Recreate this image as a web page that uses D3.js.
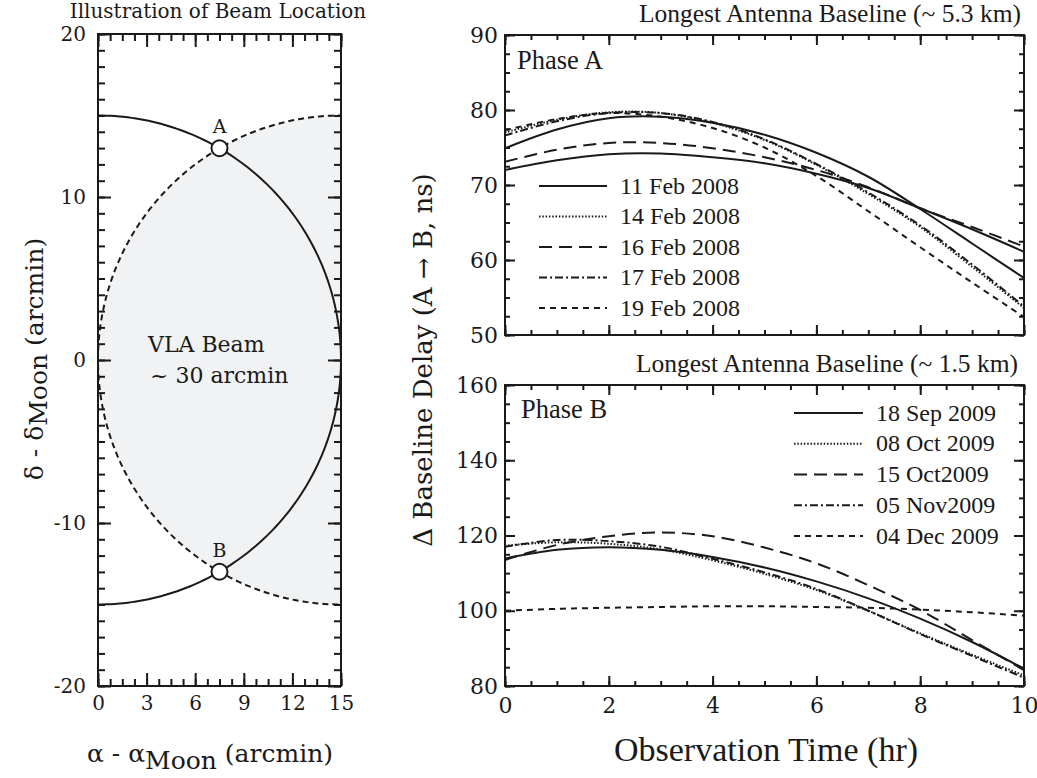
<!DOCTYPE html>
<html>
<head>
<meta charset="utf-8">
<script src="https://cdn.jsdelivr.net/npm/d3@7"></script>
<style>
  body { margin: 0; background: #fff; }
  svg { display: block; }
</style>
</head>
<body>
<svg id="chart" width="1037" height="778"></svg>
<script>
// ---------------- DATA ----------------
// Left panel: beam geometry (arcmin)
const beamRadius = 15;
const solidCircleCenter = [0, 0];     // primary beam circle (solid)
const dashedCircleCenter = [15, 0];   // shaded beam circle (dashed)
const pointLabels = ["A", "B"];
const leftXTicks = [0, 3, 6, 9, 12, 15];
const leftYTicks = [-20, -10, 0, 10, 20];

// Right panels: observation time (hr)
const hours = [0, 1, 2, 3, 4, 5, 6, 7, 8, 9, 10];
const rightXTicks = [0, 2, 4, 6, 8, 10];
const phaseAYTicks = [50, 60, 70, 80, 90];
const phaseBYTicks = [80, 100, 120, 140, 160];

// Phase A (Longest baseline ~5.3 km), delay in ns
const phaseADates = ["11 Feb 2008", "14 Feb 2008", "16 Feb 2008", "17 Feb 2008", "19 Feb 2008"];
const feb11 = [74.9, 77.4, 78.9, 79.1, 78.3, 76.7, 74.3, 71.1, 66.8, 62.2, 57.6];
const feb14 = [77.0, 78.7, 79.7, 79.6, 78.3, 76.0, 72.7, 68.8, 64.4, 59.1, 53.6];
const feb16 = [73.1, 74.7, 75.6, 75.6, 74.9, 73.7, 72.0, 69.7, 66.9, 64.4, 61.8];
const feb17 = [76.6, 78.5, 79.6, 79.6, 78.4, 76.1, 72.8, 69.0, 64.6, 59.4, 53.8];
const feb19 = [77.3, 78.8, 79.6, 79.1, 77.6, 75.0, 71.2, 66.5, 61.7, 57.0, 52.4];
const phaseAExtraSolid = [72.0, 73.3, 74.1, 74.2, 73.7, 72.9, 71.5, 69.6, 66.9, 64.1, 61.1];

// Phase B (Longest baseline ~1.5 km)
const phaseBDates = ["18 Sep 2009", "08 Oct 2009", "15 Oct2009", "05 Nov2009", "04 Dec 2009"];
const sep18 = [113.9, 116.2, 116.9, 116.2, 114.3, 111.5, 107.8, 103.3, 97.9, 91.7, 84.6];
const oct08 = [117.3, 118.2, 117.8, 116.3, 113.4, 109.8, 105.5, 100.0, 94.0, 88.3, 82.8];
const oct15 = [113.5, 117.5, 119.8, 120.8, 119.8, 116.8, 112.6, 106.8, 100.2, 92.2, 84.2];
const nov05 = [117.0, 118.8, 118.5, 117.0, 113.8, 110.2, 105.8, 100.0, 93.8, 88.0, 82.2];
const dec04 = [100.0, 100.5, 100.8, 101.0, 101.2, 101.2, 101.0, 100.8, 100.3, 99.6, 98.7];

// ---------------- STYLE ----------------
const dashStyles = ["none", "1.5,1.8", "13,7", "8,3,2,3", "6,5"];
const INK = "#1a1a1a";
const SERIF_WIDE = "'DejaVu Serif', serif";
const SERIF = "'Liberation Serif', 'Times New Roman', serif";

const svg = d3.select("#chart");
const plainFmt = d => String(d);

// ---------- generic frame with inward ticks on all four sides ----------
function drawFrame(g, x, y, opt) {
  const [x0, x1] = x.range();
  const [yb, yt] = y.range();
  const bottom = g.append("g").attr("transform", `translate(0,${yb})`)
    .call(d3.axisBottom(x).tickValues(opt.xMajor).tickFormat(plainFmt).tickSize(-opt.maj).tickSizeOuter(0).tickPadding(opt.xPad));
  const top = g.append("g").attr("transform", `translate(0,${yt})`)
    .call(d3.axisTop(x).tickValues(opt.xMajor).tickSize(-opt.maj).tickSizeOuter(0).tickFormat(""));
  const left = g.append("g").attr("transform", `translate(${x0},0)`)
    .call(d3.axisLeft(y).tickValues(opt.yMajor).tickFormat(plainFmt).tickSize(-opt.maj).tickSizeOuter(0).tickPadding(opt.yPad));
  const right = g.append("g").attr("transform", `translate(${x1},0)`)
    .call(d3.axisRight(y).tickValues(opt.yMajor).tickSize(-opt.maj).tickSizeOuter(0).tickFormat(""));
  const mb = g.append("g").attr("transform", `translate(0,${yb})`)
    .call(d3.axisBottom(x).tickValues(opt.xMinor).tickSize(-opt.min).tickSizeOuter(0).tickFormat(""));
  const mt = g.append("g").attr("transform", `translate(0,${yt})`)
    .call(d3.axisTop(x).tickValues(opt.xMinor).tickSize(-opt.min).tickSizeOuter(0).tickFormat(""));
  const ml = g.append("g").attr("transform", `translate(${x0},0)`)
    .call(d3.axisLeft(y).tickValues(opt.yMinor).tickSize(-opt.min).tickSizeOuter(0).tickFormat(""));
  const mr = g.append("g").attr("transform", `translate(${x1},0)`)
    .call(d3.axisRight(y).tickValues(opt.yMinor).tickSize(-opt.min).tickSizeOuter(0).tickFormat(""));
  [bottom, top, left, right, mb, mt, ml, mr].forEach(a => {
    a.select(".domain").remove();
    a.selectAll("line").attr("stroke", INK).attr("stroke-width", 2);
    a.selectAll("text").attr("fill", INK).attr("font-family", SERIF_WIDE).attr("font-size", opt.font);
  });
  if (!opt.showX) bottom.selectAll("text").remove();
  g.append("rect").attr("x", x0).attr("y", yt).attr("width", x1 - x0).attr("height", yb - yt)
    .attr("fill", "none").attr("stroke", INK).attr("stroke-width", 2);
}

function minorRange(domain, step) {
  return d3.range(domain[0], domain[1] + step / 2, step).map(v => +v.toFixed(4));
}

// ================= LEFT PANEL =================
const xL = d3.scaleLinear().domain([0, 15]).range([98, 341]);
const yL = d3.scaleLinear().domain([-20, 20]).range([686, 34]);
const gL = svg.append("g");

svg.append("defs").append("clipPath").attr("id", "clipL")
  .append("rect").attr("x", xL(0)).attr("y", yL(20))
  .attr("width", xL(15) - xL(0)).attr("height", yL(-20) - yL(20));

function circlePoints(c, r) {
  return d3.range(0, 361, 1).map(a => [c[0] + r * Math.cos(a * Math.PI / 180), c[1] + r * Math.sin(a * Math.PI / 180)]);
}
const lineL = d3.line().x(d => xL(d[0])).y(d => yL(d[1]));
const plotL = gL.append("g").attr("clip-path", "url(#clipL)");
plotL.append("path").attr("d", lineL(circlePoints(dashedCircleCenter, beamRadius)) + "Z")
  .attr("fill", "#f1f2f4").attr("stroke", "none");
plotL.append("path").attr("d", lineL(circlePoints(dashedCircleCenter, beamRadius)))
  .attr("fill", "none").attr("stroke", INK).attr("stroke-width", 2).attr("stroke-dasharray", "6,4");
plotL.append("path").attr("d", lineL(circlePoints(solidCircleCenter, beamRadius)))
  .attr("fill", "none").attr("stroke", INK).attr("stroke-width", 2);

drawFrame(gL, xL, yL, {
  xMajor: leftXTicks, xMinor: minorRange([0, 15], 0.75),
  yMajor: leftYTicks, yMinor: minorRange([-20, 20], 1),
  maj: 13, min: 7, xPad: 10, yPad: 12, font: 20, showX: true
});

// intersection points A and B
const ix = (solidCircleCenter[0] + dashedCircleCenter[0]) / 2;
const iy = Math.sqrt(beamRadius * beamRadius - ix * ix);
const inters = [[ix, iy], [ix, -iy]];
inters.forEach((p, i) => {
  gL.append("circle").attr("cx", xL(p[0])).attr("cy", yL(p[1])).attr("r", 8)
    .attr("fill", "#fff").attr("stroke", INK).attr("stroke-width", 2);
  gL.append("text").attr("x", xL(p[0])).attr("y", yL(p[1]) - 15)
    .attr("text-anchor", "middle").attr("font-family", SERIF_WIDE).attr("font-size", 19)
    .attr("fill", INK).text(pointLabels[i]);
});

gL.append("text").attr("x", 148).attr("y", 352).attr("font-family", SERIF_WIDE).attr("font-size", 22)
  .attr("fill", INK).text("VLA Beam");
gL.append("text").attr("x", 150).attr("y", 383).attr("font-family", SERIF_WIDE).attr("font-size", 22)
  .attr("fill", INK).text("~ 30 arcmin");

gL.append("text").attr("x", 218).attr("y", 18).attr("text-anchor", "middle")
  .attr("font-family", SERIF_WIDE).attr("font-size", 20).attr("fill", INK).text("Illustration of Beam Location");

// axis labels
const xLab = gL.append("text").attr("x", 210).attr("y", 762).attr("text-anchor", "middle")
  .attr("font-family", SERIF_WIDE).attr("font-size", 25).attr("fill", INK);
xLab.append("tspan").text("α - α");
xLab.append("tspan").attr("dy", 7).text("Moon");
xLab.append("tspan").attr("dy", -7).text(" (arcmin)");

const yLab = gL.append("text").attr("transform", "translate(43,359) rotate(-90)").attr("text-anchor", "middle")
  .attr("font-family", SERIF_WIDE).attr("font-size", 25).attr("fill", INK);
yLab.append("tspan").text("δ - δ");
yLab.append("tspan").attr("dy", 4).text("Moon");
yLab.append("tspan").attr("dy", -4).text(" (arcmin)");

// ================= RIGHT PANELS =================
const xR = d3.scaleLinear().domain([0, 10]).range([505, 1024]);
const yA = d3.scaleLinear().domain([50, 90]).range([335, 35]);
const yB = d3.scaleLinear().domain([80, 160]).range([686, 385]);

function drawSeries(g, y, seriesList, styles, clipId) {
  const line = d3.line().x((d, i) => xR(hours[i])).y(d => y(d)).curve(d3.curveCatmullRom.alpha(0.5));
  const pg = g.append("g").attr("clip-path", `url(#${clipId})`);
  seriesList.forEach((s, i) => {
    pg.append("path").attr("d", line(s)).attr("fill", "none").attr("stroke", INK)
      .attr("stroke-width", 2).attr("stroke-dasharray", styles[i]);
  });
}
function addClip(id, y) {
  svg.select("defs").append("clipPath").attr("id", id).append("rect")
    .attr("x", xR.range()[0]).attr("y", y.range()[1])
    .attr("width", xR.range()[1] - xR.range()[0]).attr("height", y.range()[0] - y.range()[1]);
}
function drawLegend(g, names, x0, x1, yStart, step) {
  names.forEach((n, i) => {
    const yy = yStart + i * step;
    g.append("line").attr("x1", x0).attr("x2", x1).attr("y1", yy).attr("y2", yy)
      .attr("stroke", INK).attr("stroke-width", 2).attr("stroke-dasharray", dashStyles[i]);
    g.append("text").attr("x", x1 + 13).attr("y", yy + 7.5).attr("font-family", SERIF)
      .attr("font-size", 24).attr("fill", INK).text(n);
  });
}

// Phase A
const gA = svg.append("g");
addClip("clipA", yA);
drawSeries(gA, yA, [feb11, phaseAExtraSolid, feb14, feb16, feb17, feb19],
  [dashStyles[0], dashStyles[0], dashStyles[1], dashStyles[2], dashStyles[3], dashStyles[4]], "clipA");
drawFrame(gA, xR, yA, {
  xMajor: rightXTicks, xMinor: minorRange([0, 10], 0.5),
  yMajor: phaseAYTicks, yMinor: minorRange([50, 90], 2.5),
  maj: 10, min: 5, xPad: 11, yPad: 7, font: 22, showX: false
});
drawLegend(gA, phaseADates, 539, 607, 186, 30.5);
gA.append("text").attr("x", 517).attr("y", 69).attr("font-family", SERIF).attr("font-size", 26.5)
  .attr("fill", INK).text("Phase A");
gA.append("text").attr("x", 1021).attr("y", 22).attr("text-anchor", "end").attr("font-family", SERIF)
  .attr("font-size", 25.5).attr("fill", INK).text("Longest Antenna Baseline (~ 5.3 km)");

// Phase B
const gB = svg.append("g");
addClip("clipB", yB);
drawSeries(gB, yB, [sep18, oct08, oct15, nov05, dec04], dashStyles, "clipB");
drawFrame(gB, xR, yB, {
  xMajor: rightXTicks, xMinor: minorRange([0, 10], 0.5),
  yMajor: phaseBYTicks, yMinor: minorRange([80, 160], 5),
  maj: 10, min: 5, xPad: 11, yPad: 7, font: 22, showX: true
});
drawLegend(gB, phaseBDates, 794, 863, 413, 30.75);
gB.append("text").attr("x", 521).attr("y", 418).attr("font-family", SERIF).attr("font-size", 26.5)
  .attr("fill", INK).text("Phase B");
gB.append("text").attr("x", 1018).attr("y", 372).attr("text-anchor", "end").attr("font-family", SERIF)
  .attr("font-size", 25.5).attr("fill", INK).text("Longest Antenna Baseline (~ 1.5 km)");

// shared labels
svg.append("text").attr("x", 766).attr("y", 761).attr("text-anchor", "middle").attr("font-family", SERIF)
  .attr("font-size", 34).attr("fill", INK).text("Observation Time (hr)");
svg.append("text").attr("transform", "translate(432,360) rotate(-90)").attr("text-anchor", "middle")
  .attr("font-family", SERIF_WIDE).attr("font-size", 26).attr("fill", INK)
  .text("Δ Baseline Delay  (A → B, ns)");
</script>
</body>
</html>
